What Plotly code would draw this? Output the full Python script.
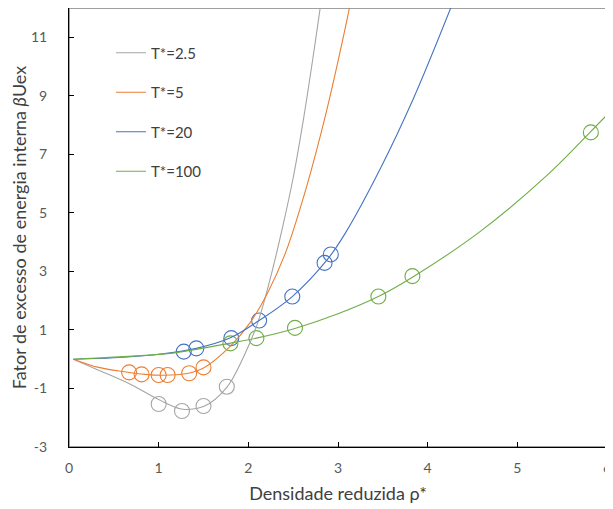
import plotly.graph_objects as go

# ---- data ----
names = ["T*=2.5", "T*=5", "T*=20", "T*=100"]
colors = ["#A5A5A5", "#ED7D31", "#4472C4", "#70AD47"]

# model curves
gray_cx = [0.05, 0.35, 0.70, 1.0, 1.25, 1.5, 1.76, 1.95, 2.1, 2.24, 2.37, 2.5, 2.62, 2.74, 2.82]
gray_cy = [0.0, -0.40, -0.88, -1.38, -1.70, -1.62, -0.96, 0.10, 1.20, 2.70, 4.35, 6.20, 8.30, 10.70, 12.40]

orange_cx = [0.05, 0.33, 0.62, 0.85, 1.05, 1.3, 1.5, 1.8, 2.02, 2.22, 2.41, 2.65, 2.87, 3.08, 3.14]
orange_cy = [0.0, -0.28, -0.43, -0.52, -0.55, -0.50, -0.30, 0.45, 1.25, 2.30, 3.60, 5.90, 8.45, 11.30, 12.20]

blue_cx = [0.05, 0.5, 1.0, 1.42, 1.8, 2.12, 2.49, 2.88, 3.08, 3.47, 3.84, 4.27]
blue_cy = [0.0, 0.05, 0.17, 0.37, 0.73, 1.32, 2.14, 3.40, 4.30, 6.50, 8.90, 12.10]

green_cx = [0.05, 0.5, 1.13, 1.8, 2.09, 2.52, 3.0, 3.45, 3.83, 4.58, 5.33, 5.81, 6.0]
green_cy = [0.0, 0.07, 0.20, 0.55, 0.72, 1.05, 1.55, 2.14, 2.80, 4.35, 6.28, 7.75, 8.35]

# simulation points
gray_px = [1.0, 1.26, 1.5, 1.76]
gray_py = [-1.53, -1.77, -1.60, -0.94]
orange_px = [0.67, 0.81, 1.0, 1.1, 1.34, 1.5]
orange_py = [-0.45, -0.52, -0.54, -0.54, -0.48, -0.28]
blue_px = [1.28, 1.42, 1.81, 2.12, 2.49, 2.85, 2.92]
blue_py = [0.26, 0.37, 0.72, 1.32, 2.14, 3.29, 3.58]
green_px = [1.8, 2.09, 2.52, 3.45, 3.83, 5.82]
green_py = [0.54, 0.72, 1.07, 2.14, 2.84, 7.75]

x_ticks = [0, 1, 2, 3, 4, 5, 6]
y_ticks = [-3, -1, 1, 3, 5, 7, 9, 11]
y_ticktext = ["-3", "-1", "1", "3", "5", "7", "9", "11"]

curves = [(gray_cx, gray_cy), (orange_cx, orange_cy), (blue_cx, blue_cy), (green_cx, green_cy)]
points = [(gray_px, gray_py), (orange_px, orange_py), (blue_px, blue_py), (green_px, green_py)]

FONT = "Lato, 'Liberation Sans', sans-serif"

fig = go.Figure()
for i, (name, col) in enumerate(zip(names, colors)):
    px, py = points[i]
    fig.add_trace(go.Scatter(
        x=px, y=py, mode="markers", showlegend=False, legendgroup=name,
        marker=dict(symbol="circle-open", size=15, color=col, line=dict(width=1.1, color=col)),
        hoverinfo="skip"))
for i, (name, col) in enumerate(zip(names, colors)):
    cx, cy = curves[i]
    fig.add_trace(go.Scatter(
        x=cx, y=cy, mode="lines", name=name, legendgroup=name,
        line=dict(color=col, width=1.1, shape="spline", smoothing=1.0)))

# the page body adds an 8px offset; margins are compensated for it
fig.update_layout(
    width=613, height=501,
    margin=dict(l=61, r=14, t=0, b=62, autoexpand=False),
    paper_bgcolor="white", plot_bgcolor="white",
    font=dict(family=FONT, size=14, color="#595959"),
    showlegend=True,
    legend=dict(x=0.078, y=0.935, xanchor="left", yanchor="top",
                bgcolor="rgba(0,0,0,0)", font=dict(size=15, color="#404040"),
                traceorder="grouped", tracegroupgap=17, itemwidth=30),
    xaxis=dict(range=[0, 6], tickvals=x_ticks, ticks="inside", ticklen=5,
               tickcolor="#000000", showgrid=False, zeroline=False, automargin=False,
               showline=True, linecolor="#000000", linewidth=1, ticklabelstandoff=8,
               title=dict(text="Densidade reduzida ρ*", font=dict(size=18, color="#404040"), standoff=12)),
    yaxis=dict(range=[-3, 12], tickvals=y_ticks, ticktext=y_ticktext, ticks="inside", ticklen=5,
               tickcolor="#000000", showgrid=False, zeroline=False, automargin=False,
               showline=True, linecolor="#000000", linewidth=1, ticklabelstandoff=18,
               title=dict(text="Fator de excesso de energia interna <i>β</i>Uex",
                          font=dict(size=18, color="#404040"), standoff=3)),
    shapes=[dict(type="rect", xref="paper", yref="paper", x0=0, y0=0, x1=1, y1=1,
                 line=dict(color="#808080", width=1.5), layer="below")],
)

fig.write_html("out.html")
